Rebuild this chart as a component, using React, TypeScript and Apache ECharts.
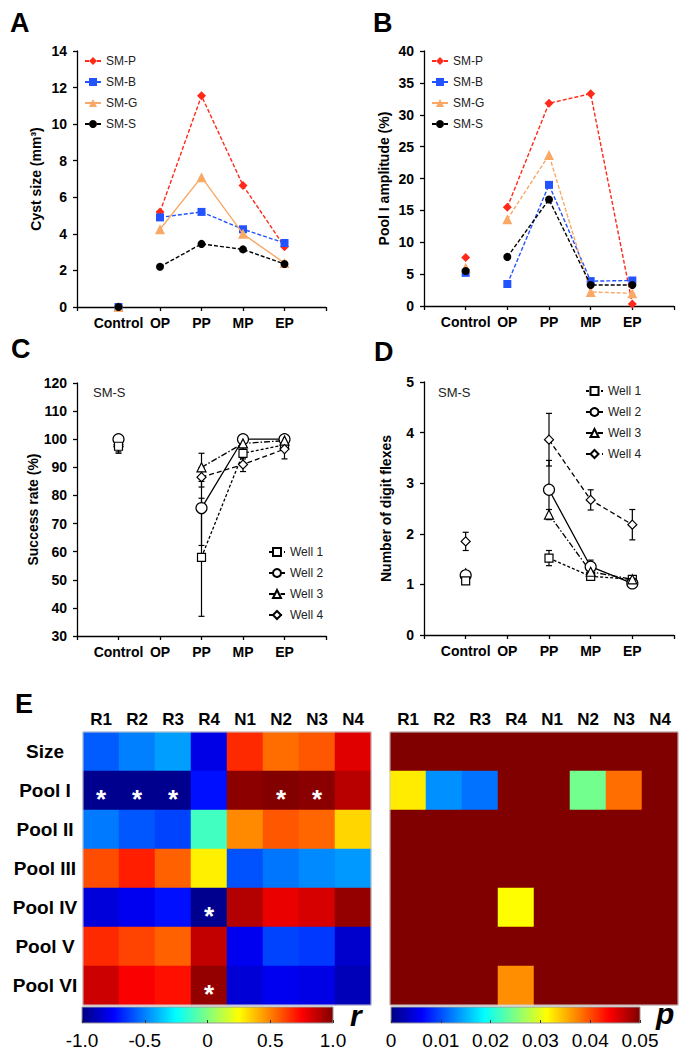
import React, { useEffect, useRef } from 'react';
import * as echarts from 'echarts';

const FONT = '"Liberation Sans", Arial, sans-serif';

// ---------- Panels A-D ----------
const categories = ['Control', 'OP', 'PP', 'MP', 'EP'];
const axisCats = ['', ...categories, ''];

const smNames = ['SM-P', 'SM-B', 'SM-G', 'SM-S'];
// Cyst size (mm3)
const cystSMP = [0, 5.2, 11.55, 6.65, 3.3];
const cystSMB = [0, 4.9, 5.2, 4.25, 3.5];
const cystSMG = [0, 4.25, 7.1, 4.0, 2.4];
const cystSMS = [0, 2.2, 3.45, 3.15, 2.35];
// Pool I amplitude (%)
const poolSMP = [7.6, 15.5, 31.8, 33.3, 0.3];
const poolSMB = [5.2, 3.45, 19.0, 3.9, 4.0];
const poolSMG = [6.0, 13.6, 23.7, 2.2, 2.0];
const poolSMS = [5.5, 7.7, 16.7, 3.3, 3.3];

const wellNames = ['Well 1', 'Well 2', 'Well 3', 'Well 4'];
// Success rate (%)
const succW1 = [97.5, null, 58, 95, 98];
const succW2 = [100, null, 75.5, 100, 100];
const succW3 = [99, null, 90, 98.5, 99.5];
const succW4 = [98, null, 86.5, 91, 96.5];
const succErrW1 = [2, null, 21, 2, 2];
const succErrW2 = [0, null, 13.3, 0, 0];
const succErrW3 = [1, null, 5, 1.5, 1];
const succErrW4 = [3, null, 3.5, 2.5, 3.5];
// Number of digit flexes
const flexW1 = [1.07, null, 1.52, 1.16, 1.1];
const flexW2 = [1.18, null, 2.87, 1.35, 1.02];
const flexW3 = [1.22, null, 2.38, 1.25, 1.1];
const flexW4 = [1.85, null, 3.86, 2.67, 2.18];
const flexErrW1 = [0.05, null, 0.15, 0.05, 0.04];
const flexErrW2 = [0.05, null, 0.58, 0.13, 0.03];
const flexErrW3 = [0.05, null, 0.1, 0.1, 0.05];
const flexErrW4 = [0.18, null, 0.52, 0.2, 0.3];

// ---------- Panel E ----------
const colLabels = ['R1', 'R2', 'R3', 'R4', 'N1', 'N2', 'N3', 'N4'];
const rowLabels = ['Size', 'Pool I', 'Pool II', 'Pool III', 'Pool IV', 'Pool V', 'Pool VI'];
const rSize = [-0.57, -0.5, -0.44, -0.8, 0.67, 0.54, 0.58, 0.81];
const rPool1 = [-0.97, -0.97, -0.97, -0.72, 0.975, 0.995, 0.98, 0.89];
const rPool2 = [-0.51, -0.58, -0.62, -0.125, 0.48, 0.58, 0.55, 0.33];
const rPool3 = [0.6, 0.69, 0.56, 0.28, -0.59, -0.52, -0.48, -0.45];
const rPool4 = [-0.82, -0.78, -0.72, -0.97, 0.9, 0.79, 0.83, 0.96];
const rPool5 = [0.67, 0.62, 0.56, 0.87, -0.78, -0.62, -0.64, -0.85];
const rPool6 = [0.85, 0.76, 0.72, 0.96, -0.83, -0.78, -0.8, -0.89];
const pSize = [0.05, 0.05, 0.05, 0.05, 0.05, 0.05, 0.05, 0.05];
const pPool1 = [0.0322, 0.0133, 0.0118, 0.05, 0.05, 0.0243, 0.0384, 0.05];
const pPool2 = [0.05, 0.05, 0.05, 0.05, 0.05, 0.05, 0.05, 0.05];
const pPool3 = [0.05, 0.05, 0.05, 0.05, 0.05, 0.05, 0.05, 0.05];
const pPool4 = [0.05, 0.05, 0.05, 0.0313, 0.05, 0.05, 0.05, 0.05];
const pPool5 = [0.05, 0.05, 0.05, 0.05, 0.05, 0.05, 0.05, 0.05];
const pPool6 = [0.05, 0.05, 0.05, 0.0368, 0.05, 0.05, 0.05, 0.05];
const rTicks = ['-1.0', '-0.5', '0', '0.5', '1.0'];
const pTicks = ['0', '0.01', '0.02', '0.03', '0.04', '0.05'];

const jet = ['#000080', '#0000FF', '#0080FF', '#00FFFF', '#80FF80', '#FFFF00', '#FF8000', '#FF0000', '#800000'];

const smColors = ['#FF2A1A', '#2352FF', '#F9A866', '#000000'];
const smSymbols = ['diamond', 'rect', 'triangle', 'circle'];
const smSizes = [9, 8, 10, 8];
const wellSymbols = ['rect', 'circle', 'triangle', 'diamond'];
const wellSizes = [8, 11, 9, 9];
const wellDash: any[] = [[3, 2], 'solid', [6, 2, 1.5, 2], [5, 3]];

function baseXAxis(gridIndex: number) {
  return {
    type: 'category', gridIndex, data: axisCats, boundaryGap: false,
    axisLine: { show: true, lineStyle: { color: '#000', width: 1.3 } },
    axisTick: { show: true, interval: 0, length: 4, lineStyle: { color: '#000', width: 1.3 } },
    axisLabel: { interval: 0, margin: 9, color: '#000', fontSize: 14, fontWeight: 'bold', fontFamily: FONT },
    splitLine: { show: false },
  };
}
function baseYAxis(gridIndex: number, min: number, max: number, interval: number, name: string, nameGap: number) {
  return {
    type: 'value', gridIndex, min, max, interval, name, nameLocation: 'middle', nameGap,
    nameTextStyle: { color: '#000', fontSize: 14, fontWeight: 'bold', fontFamily: FONT },
    axisLine: { show: true, lineStyle: { color: '#000', width: 1.3 } },
    axisTick: { show: true, length: 4, lineStyle: { color: '#000', width: 1.3 } },
    axisLabel: { margin: 10, color: '#000', fontSize: 14, fontWeight: 'bold', fontFamily: FONT },
    splitLine: { show: false },
  };
}

function smSeries(groups: number[][], axisIndex: number, solidG: boolean) {
  const out: any[] = [];
  groups.forEach((vals, i) => {
    const dashed = !(solidG && i === 2);
    out.push({
      type: 'line', name: smNames[i], xAxisIndex: axisIndex, yAxisIndex: axisIndex,
      data: categories.slice(1).map((c, k) => [c, vals[k + 1]]),
      symbol: smSymbols[i], symbolSize: smSizes[i],
      lineStyle: { color: smColors[i], width: 1.4, type: dashed ? [4, 2] : 'solid' },
      itemStyle: { color: smColors[i], opacity: 1 }, z: 2 + i,
    });
  });
  groups.forEach((vals, i) => {
    out.push({
      type: 'scatter', name: smNames[i], xAxisIndex: axisIndex, yAxisIndex: axisIndex,
      data: [[categories[0], vals[0]]], symbol: smSymbols[i], symbolSize: smSizes[i],
      itemStyle: { color: smColors[i], opacity: 1 }, z: 2 + i,
    });
  });
  return out;
}

function wellSeries(groups: (number | null)[][], errs: (number | null)[][], axisIndex: number) {
  const out: any[] = [];
  groups.forEach((vals, i) => {
    const data: any[] = [];
    vals.forEach((v, k) => { if (v != null && errs[i][k]) data.push([categories[k], v - (errs[i][k] as number), v + (errs[i][k] as number)]); });
    out.push({
      type: 'custom', xAxisIndex: axisIndex, yAxisIndex: axisIndex, data, z: 1,
      encode: { x: 0, y: [1, 2] },
      renderItem: (params: any, api: any) => {
        const x = api.value(0);
        const lo = api.coord([x, api.value(1)]);
        const hi = api.coord([x, api.value(2)]);
        const w = 3;
        const st = { stroke: '#000', lineWidth: 1.2 };
        return {
          type: 'group', children: [
            { type: 'line', shape: { x1: lo[0], y1: lo[1], x2: hi[0], y2: hi[1] }, style: st },
            { type: 'line', shape: { x1: lo[0] - w, y1: lo[1], x2: lo[0] + w, y2: lo[1] }, style: st },
            { type: 'line', shape: { x1: hi[0] - w, y1: hi[1], x2: hi[0] + w, y2: hi[1] }, style: st },
          ],
        };
      },
    });
  });
  groups.forEach((vals, i) => {
    const data: any[] = [];
    vals.forEach((v, k) => { if (k > 0 && v != null) data.push([categories[k], v]); });
    out.push({
      type: 'line', name: wellNames[i], xAxisIndex: axisIndex, yAxisIndex: axisIndex, data,
      symbol: wellSymbols[i], symbolSize: wellSizes[i],
      lineStyle: { color: '#000', width: 1.3, type: wellDash[i] },
      itemStyle: { color: '#fff', borderColor: '#000', borderWidth: 1.2, opacity: 1 }, z: 3,
    });
  });
  // control points, drawn so that Well 2 (circle) and Well 1 (square) are on top
  [3, 2, 1, 0].forEach((i) => {
    out.push({
      type: 'scatter', name: wellNames[i], xAxisIndex: axisIndex, yAxisIndex: axisIndex,
      data: [[categories[0], groups[i][0]]], symbol: wellSymbols[i], symbolSize: wellSizes[i],
      itemStyle: { color: '#fff', borderColor: '#000', borderWidth: 1.2, opacity: 1 }, z: 3,
    });
  });
  return out;
}

function legendCfg(names: string[], left: number, top: number, itemWidth: number, itemGap: number) {
  return {
    data: names, left, top, orient: 'vertical', padding: 0, itemWidth, itemHeight: 10, itemGap,
    textStyle: { fontSize: 12, color: '#222', fontFamily: FONT },
  };
}

export default function App() {
  const ref = useRef<HTMLDivElement>(null);
  useEffect(() => {
    document.body.style.margin = '0';
    const chart = echarts.init(ref.current!, undefined, { renderer: 'svg' });

    const rRows = [rSize, rPool1, rPool2, rPool3, rPool4, rPool5, rPool6];
    const pRows = [pSize, pPool1, pPool2, pPool3, pPool4, pPool5, pPool6];
    const rData: any[] = [];
    const pData: any[] = [];
    rRows.forEach((row, ri) => row.forEach((v, ci) => rData.push([ci, ri, v])));
    pRows.forEach((row, ri) => row.forEach((v, ci) => pData.push([ci, ri, v])));

    const series: any[] = [];
    series.push(...smSeries([cystSMP, cystSMB, cystSMG, cystSMS], 0, true));
    series.push(...smSeries([poolSMP, poolSMB, poolSMG, poolSMS], 1, false));
    series.push(...wellSeries([succW1, succW2, succW3, succW4], [succErrW1, succErrW2, succErrW3, succErrW4], 2));
    series.push(...wellSeries([flexW1, flexW2, flexW3, flexW4], [flexErrW1, flexErrW2, flexErrW3, flexErrW4], 3));
    const rIdx = series.length;
    const heatItem = { borderWidth: 0, borderColor: 'rgba(0,0,0,0)', opacity: 1 };
    series.push({
      type: 'heatmap', xAxisIndex: 4, yAxisIndex: 4, data: rData,
      itemStyle: heatItem, emphasis: { disabled: true },
      label: {
        show: true, color: '#fff', fontSize: 26, fontWeight: 'bold', fontFamily: FONT, offset: [0, 8],
        formatter: (p: any) => (pRows[p.value[1]][p.value[0]] < 0.05 ? '*' : ''),
      },
    });
    const pIdx = series.length;
    series.push({ type: 'heatmap', xAxisIndex: 5, yAxisIndex: 5, data: pData, itemStyle: heatItem, emphasis: { disabled: true } });

    const heatX = (gi: number) => ({
      type: 'category', gridIndex: gi, data: colLabels, position: 'top',
      axisLine: { show: false }, axisTick: { show: false }, splitLine: { show: false }, splitArea: { show: false },
      axisLabel: { margin: 4, color: '#000', fontSize: 17, fontWeight: 'bold', fontFamily: FONT },
    });
    const heatY = (gi: number, showLabels: boolean) => ({
      type: 'category', gridIndex: gi, data: rowLabels, inverse: true,
      axisLine: { show: false }, axisTick: { show: false }, splitLine: { show: false }, splitArea: { show: false },
      axisLabel: { show: showLabels, margin: 38, align: 'center', color: '#000', fontSize: 19, fontWeight: 'bold', fontFamily: FONT },
    });
    const cbX = (gi: number, min: number, max: number, interval: number, labels: string[]) => ({
      type: 'value', gridIndex: gi, min, max, interval, z: 10,
      axisLine: { show: false }, splitLine: { show: false },
      axisTick: { show: true, inside: true, length: 3, lineStyle: { color: '#333', width: 1 } },
      axisLabel: {
        margin: 8, color: '#000', fontSize: 19, fontFamily: FONT,
        formatter: (v: number) => labels[Math.round((v - min) / interval)] ?? '',
      },
    });
    const cbY = (gi: number) => ({ type: 'value', gridIndex: gi, show: false });

    const stops = jet.map((c, i) => ({ offset: i / (jet.length - 1), color: c }));
    const letter = (t: string, x: number, y: number) => ({
      type: 'text', x, y, style: { text: t, fontSize: 27, fontWeight: 'bold', fontFamily: FONT, fill: '#000', verticalAlign: 'middle' },
    });
    const note = (t: string, x: number, y: number) => ({
      type: 'text', x, y, style: { text: t, fontSize: 13, fontFamily: FONT, fill: '#222', verticalAlign: 'middle' },
    });

    chart.setOption({
      animation: false,
      backgroundColor: '#fff',
      grid: [
        { left: 77, top: 51, width: 249, height: 256 },
        { left: 424, top: 51, width: 250, height: 255 },
        { left: 77, top: 383, width: 249, height: 253 },
        { left: 424, top: 382, width: 250, height: 253 },
        { left: 83, top: 732, width: 288, height: 273 },
        { left: 390, top: 732, width: 288, height: 273 },
        { left: 82, top: 1007, width: 251, height: 16 },
        { left: 391, top: 1007, width: 249, height: 16 },
      ],
      xAxis: [
        baseXAxis(0), baseXAxis(1), baseXAxis(2), baseXAxis(3),
        heatX(4), heatX(5),
        cbX(6, -1, 1, 0.5, rTicks), cbX(7, 0, 0.05, 0.01, pTicks),
      ],
      yAxis: [
        baseYAxis(0, 0, 14, 2, 'Cyst size (mm³)', 34),
        baseYAxis(1, 0, 40, 5, 'Pool I amplitude (%)', 33),
        baseYAxis(2, 30, 120, 10, 'Success rate (%)', 36),
        baseYAxis(3, 0, 5, 1, 'Number of digit flexes', 31),
        heatY(4, true), heatY(5, false),
        cbY(6), cbY(7),
      ],
      legend: [
        legendCfg(smNames, 84, 55, 16, 9),
        legendCfg(smNames, 431, 55, 16, 9),
        legendCfg(wellNames, 268, 546, 16, 9),
        legendCfg(wellNames, 585, 385, 17, 9),
      ],
      visualMap: [
        { type: 'continuous', show: false, seriesIndex: rIdx, min: -1, max: 1, inRange: { color: jet } },
        { type: 'continuous', show: false, seriesIndex: pIdx, min: 0, max: 0.05, inRange: { color: jet } },
      ],
      graphic: [
        letter('A', 10, 23), letter('B', 373, 23), letter('C', 11, 349), letter('D', 374, 352), letter('E', 15, 704),
        note('SM-S', 93, 392), note('SM-S', 438, 392),
        { type: 'rect', x: 82, y: 1007, shape: { x: 0, y: 0, width: 251, height: 16 }, z: 0,
          style: { fill: new echarts.graphic.LinearGradient(0, 0, 1, 0, stops), stroke: '#999', lineWidth: 1 } },
        { type: 'rect', x: 391, y: 1007, shape: { x: 0, y: 0, width: 249, height: 16 }, z: 0,
          style: { fill: new echarts.graphic.LinearGradient(0, 0, 1, 0, stops), stroke: '#999', lineWidth: 1 } },
        { type: 'rect', x: 83, y: 732, shape: { x: 0, y: 0, width: 288, height: 273 }, z: 100, silent: true,
          style: { fill: 'none', stroke: '#c8c8c8', lineWidth: 1 } },
        { type: 'rect', x: 390, y: 732, shape: { x: 0, y: 0, width: 288, height: 273 }, z: 100, silent: true,
          style: { fill: 'none', stroke: '#c8c8c8', lineWidth: 1 } },
        { type: 'text', x: 350, y: 1015, style: { text: 'r', fontSize: 30, fontWeight: 'bold', fontStyle: 'italic', fontFamily: FONT, fill: '#000', verticalAlign: 'middle' } },
        { type: 'text', x: 656, y: 1013, style: { text: 'p', fontSize: 30, fontWeight: 'bold', fontStyle: 'italic', fontFamily: FONT, fill: '#000', verticalAlign: 'middle' } },
      ],
      series,
    });
    return () => chart.dispose();
  }, []);
  return <div ref={ref} style={{ width: 689, height: 1050 }} />;
}
